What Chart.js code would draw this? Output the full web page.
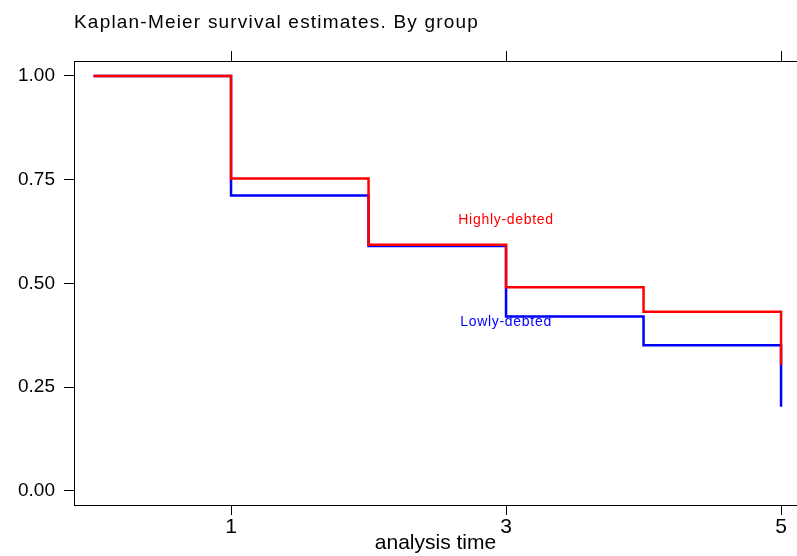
<!DOCTYPE html>
<html>
<head>
<meta charset="utf-8">
<script src="https://cdn.jsdelivr.net/npm/chart.js@4.4.1/dist/chart.umd.min.js"></script>
<style>
  body { margin: 0; background: #fff; }
  canvas { display: block; }
</style>
</head>
<body>
<canvas id="km" width="797" height="556"></canvas>
<script>
// analysis time points where the estimate steps down
const times = [0, 1, 2, 3, 4, 5];
const highlyDebted = [1.0, 0.753, 0.593, 0.491, 0.432, 0.304];
const lowlyDebted = [1.0, 0.712, 0.590, 0.420, 0.351, 0.203];

const xTicks = [1, 3, 5];
const yTicks = [0, 0.25, 0.5, 0.75, 1];

const chartTitle = 'Kaplan-Meier survival estimates. By group';
// series labels placed inside the plot (data coords)
const seriesLabels = [
    { text: 'Highly-debted', x: 3.0, y: 0.653, color: '#ff0000' },
    { text: 'Lowly-debted', x: 3.0, y: 0.407, color: '#0000ff' }
];

const FONT = '"Liberation Sans", Arial, sans-serif';

function toPoints(ys) {
    return times.map((t, i) => ({ x: t, y: ys[i] }));
}

const textPlugin = {
    id: 'kmText',
    afterDraw(chart) {
        const ctx = chart.ctx;
        const xs = chart.scales.x;
        const ys = chart.scales.y;
        ctx.save();
        // title
        ctx.font = '19px ' + FONT;
        ctx.letterSpacing = '1.2px';
        ctx.fillStyle = '#000';
        ctx.textAlign = 'left';
        ctx.textBaseline = 'alphabetic';
        ctx.fillText(chartTitle, 74, 28);
        // group labels
        ctx.font = '14px ' + FONT;
        ctx.letterSpacing = '0.7px';
        ctx.textAlign = 'center';
        ctx.textBaseline = 'middle';
        seriesLabels.forEach(l => {
            ctx.fillStyle = l.color;
            ctx.fillText(l.text, xs.getPixelForValue(l.x), ys.getPixelForValue(l.y));
        });
        ctx.restore();
    }
};

const axisGrid = {
    display: true,
    drawOnChartArea: false,
    drawTicks: true,
    tickLength: 10,
    color: '#000',
    lineWidth: 1
};

new Chart(document.getElementById('km').getContext('2d'), {
    type: 'line',
    data: {
        datasets: [
            {
                label: 'Highly-debted',
                data: toPoints(highlyDebted),
                borderColor: '#ff0000',
                borderWidth: 2.5,
                stepped: true,
                pointRadius: 0,
                fill: false
            },
            {
                label: 'Lowly-debted',
                data: toPoints(lowlyDebted),
                borderColor: '#0000ff',
                borderWidth: 2.5,
                stepped: true,
                pointRadius: 0,
                fill: false
            }
        ]
    },
    options: {
        responsive: false,
        animation: false,
        layout: { padding: 0 },
        plugins: {
            legend: { display: false },
            tooltip: { enabled: false },
            title: { display: false }
        },
        scales: {
            x: {
                type: 'linear',
                position: 'bottom',
                min: -0.142,
                max: 5.116,
                afterBuildTicks: s => { s.ticks = xTicks.map(v => ({ value: v })); },
                afterFit: s => { s.height = 51; },
                grid: axisGrid,
                border: { display: true, color: '#000', width: 1 },
                ticks: {
                    autoSkip: false,
                    maxRotation: 0,
                    padding: 0,
                    color: '#000',
                    font: { family: FONT, size: 21 }
                },
                title: {
                    display: true,
                    text: 'analysis time',
                    color: '#000',
                    padding: { top: 3, bottom: 0 },
                    font: { family: FONT, size: 21 }
                }
            },
            x2: {
                type: 'linear',
                position: 'top',
                min: -0.142,
                max: 5.116,
                afterBuildTicks: s => { s.ticks = xTicks.map(v => ({ value: v })); },
                afterFit: s => { s.height = 61; },
                grid: axisGrid,
                border: { display: true, color: '#000', width: 1 },
                ticks: { display: false }
            },
            y: {
                type: 'linear',
                min: -0.034,
                max: 1.036,
                afterBuildTicks: s => { s.ticks = yTicks.map(v => ({ value: v })); },
                afterFit: s => { s.width = 74; },
                grid: axisGrid,
                border: { display: true, color: '#000', width: 1 },
                ticks: {
                    autoSkip: false,
                    padding: 9,
                    color: '#000',
                    font: { family: FONT, size: 19 },
                    callback: v => v.toFixed(2)
                }
            }
        }
    },
    plugins: [textPlugin]
});
</script>
</body>
</html>
